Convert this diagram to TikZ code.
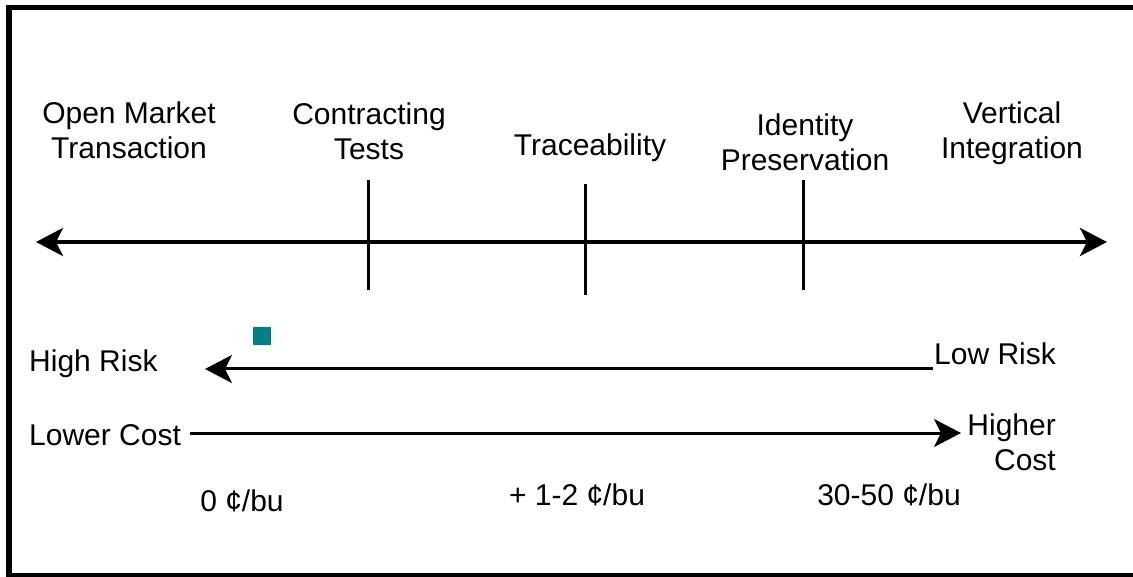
\documentclass[tikz,border=0pt]{standalone}
\usepackage{fontspec}
\setmainfont{Liberation Sans}
\usetikzlibrary{arrows.meta}
\definecolor{tealsq}{RGB}{0,128,128}
\begin{document}
\begin{tikzpicture}[x=1pt,y=-1pt,
  lbl/.style={inner sep=0pt,align=center,font=\fontsize{30}{35}\selectfont},
  bigarrow/.style={line width=4pt,-{Stealth[length=27pt,width=28pt,inset=7pt]}},
  midarrow/.style={line width=3pt,-{Stealth[length=27pt,width=28pt,inset=7pt]}},
  tick/.style={line width=3pt}]
\useasboundingbox (0,0) rectangle (1133,577);
\fill[white] (0,0) rectangle (1133,577);
% frame
\draw[line width=5.5pt] (9,577) -- (9,7.5) -- (1133,7.5);
\draw[line width=5pt] (6,575) -- (1133,575);
% main axis
\coordinate (mL) at (36,242);
\coordinate (mR) at (1107,242);
\coordinate (mC) at (570,242);
\draw[bigarrow] (mC) -- (mL);
\draw[bigarrow] (mC) -- (mR);
\coordinate (t1a) at (368,180); \coordinate (t1b) at (368,290);
\coordinate (t2a) at (585,184); \coordinate (t2b) at (585,295);
\coordinate (t3a) at (803,180); \coordinate (t3b) at (803,290);
\draw[tick] (t1a) -- (t1b);
\draw[tick] (t2a) -- (t2b);
\draw[tick] (t3a) -- (t3b);
% top labels
\node[lbl] (open) at (129,130) {Open Market\\Transaction};
\node[lbl] (contr) at (369,131) {Contracting\\Tests};
\node[lbl] (trace) at (590,148) {Traceability};
\node[lbl] (ident) at (805,142) {Identity\\Preservation};
\node[lbl] (vert) at (1012,133) {Vertical\\Integration};
% risk
\node[lbl,anchor=west] (high) at (29,364) {High Risk};
\node[lbl,anchor=west] (low) at (934,354) {Low Risk};
\coordinate (rS) at (933,369);
\coordinate (rE) at (205,369);
\draw[midarrow] (rS) -- (rE);
\fill[tealsq] (253,327) rectangle (271,345);
% cost
\node[lbl,anchor=west] (lower) at (29,435) {Lower Cost};
\node[lbl,align=right,anchor=east] (higher) at (1056,442) {Higher\\Cost};
\coordinate (cS) at (190,433);
\coordinate (cE) at (961,433);
\draw[midarrow] (cS) -- (cE);
% prices
\node[lbl] (p0) at (242,501) {0 ¢/bu};
\node[lbl] (p1) at (577,495) {+ 1-2 ¢/bu};
\node[lbl] (p2) at (889,495) {30-50 ¢/bu};
\end{tikzpicture}
\end{document}
